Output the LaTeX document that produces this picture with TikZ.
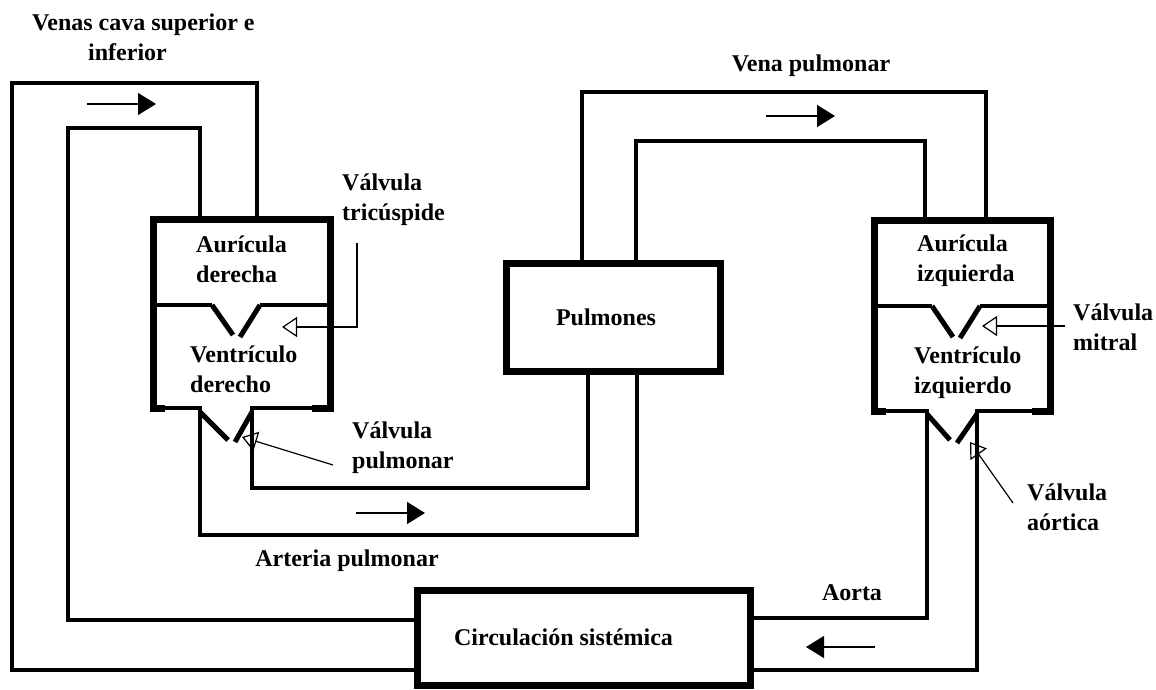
\documentclass[tikz,border=0pt]{standalone}
\usepackage{fontspec}
\setmainfont{Liberation Serif}
\usetikzlibrary{arrows.meta}
\begin{document}
\begin{tikzpicture}[x=1pt, y=-1pt,
  vessel/.style={line width=3.5pt},
  wall/.style={line width=7pt},
  valve/.style={line width=5pt},
  flow/.style={line width=1.3pt, -{Triangle[length=18pt,width=22pt]}},
  pointer/.style={line width=1.2pt, -{Triangle[open,length=15pt,width=20pt]}},
  lbl/.style={font=\bfseries\fontsize{24}{30}\selectfont, inner sep=0pt, align=left},
  organ/.style={draw, line width=7pt, inner sep=0pt, outer sep=0pt, font=\bfseries\fontsize{24}{30}\selectfont}]
  \useasboundingbox (0,0) rectangle (1156,690);
  % organos
  \node[organ, minimum width=214pt, minimum height=108pt] (pulm) at (613,317) {\hspace*{-14pt}Pulmones};
  \node[organ, minimum width=333pt, minimum height=95pt] (circ) at (583.5,637.5) {\hspace*{-40pt}Circulación sistémica};
  % corazon derecho
  \draw[wall] (165,408) -- (153,408) -- (153,219) -- (330,219) -- (330,408) -- (312,408);
  \draw[vessel] (153,305) -- (212,305);
  \draw[vessel] (260,305) -- (330,305);
  \draw[valve] (212,305) -- (233,335);
  \draw[valve] (260,305) -- (240,337);
  \draw[valve] (200,412) -- (228,440);
  \draw[valve] (252,412) -- (235,442);
  % corazon izquierdo
  \draw[wall] (886,411) -- (874,411) -- (874,220) -- (1050,220) -- (1050,411) -- (1032,411);
  \draw[vessel] (874,306) -- (932,306);
  \draw[vessel] (980,306) -- (1050,306);
  \draw[valve] (932,306) -- (953,337);
  \draw[valve] (980,306) -- (960,338);
  \draw[valve] (927,414) -- (950,440);
  \draw[valve] (977,414) -- (957,443);
  % venas cava
  \draw[vessel] (circ.west |- 0,670) -- (12,670) -- (12,83) -- (257,83) -- (257,219);
  \draw[vessel] (circ.west |- 0,620) -- (68,620) -- (68,128) -- (200,128) -- (200,219);
  % arteria pulmonar
  \draw[vessel] (153,408) -- (200,408) -- (200,535) -- (637,535) -- (637,0 |- pulm.south);
  \draw[vessel] (330,408) -- (252,408) -- (252,488) -- (588,488) -- (588,0 |- pulm.south);
  % vena pulmonar
  \draw[vessel] (582,0 |- pulm.north) -- (582,92) -- (986,92) -- (986,220);
  \draw[vessel] (636,0 |- pulm.north) -- (636,141) -- (925,141) -- (925,220);
  % aorta
  \draw[vessel] (874,411) -- (927,411) -- (927,618) -- (circ.east |- 0,618);
  \draw[vessel] (1050,411) -- (977,411) -- (977,670) -- (circ.east |- 0,670);
  % sentido de la sangre
  \draw[flow] (87,104) -- (156,104);
  \draw[flow] (766,116) -- (835,116);
  \draw[flow] (356,513) -- (425,513);
  \draw[flow] (875,647) -- (806,647);
  % textos
  \node[lbl, anchor=west] (cava) at (32,37) {Venas cava superior e\\\hspace*{56pt}inferior};
  \node[lbl, anchor=west] (ad) at (196,259) {Aurícula\\derecha};
  \node[lbl, anchor=west] (vd) at (190,369) {Ventrículo\\derecho};
  \node[lbl, anchor=west] (tv) at (342,200) {Válvula\\tricúspide};
  \node[lbl, anchor=west] (pv) at (352,448) {Válvula\\pulmonar};
  \node[lbl] (ap) at (347,561) {Arteria pulmonar};
  \node[lbl] (vp) at (811,66) {Vena pulmonar};
  \node[lbl, anchor=west] (ai) at (917,261) {Aurícula\\izquierda};
  \node[lbl, anchor=west] (vi) at (914,373) {Ventrículo\\izquierdo};
  \node[lbl, anchor=west] (mv) at (1073,327) {Válvula\\mitral};
  \node[lbl, anchor=west] (av) at (1027,507) {Válvula\\aórtica};
  \node[lbl] (ao) at (852,593) {Aorta};
  % valvulas
  \draw[pointer] (357,243) -- (357,327) -- (282,327);
  \draw[pointer] (1065,326) -- (982,326);
  \draw[pointer] (333,465) -- (242,437);
  \draw[pointer] (1013,503) -- (970,442);
\end{tikzpicture}
\end{document}
